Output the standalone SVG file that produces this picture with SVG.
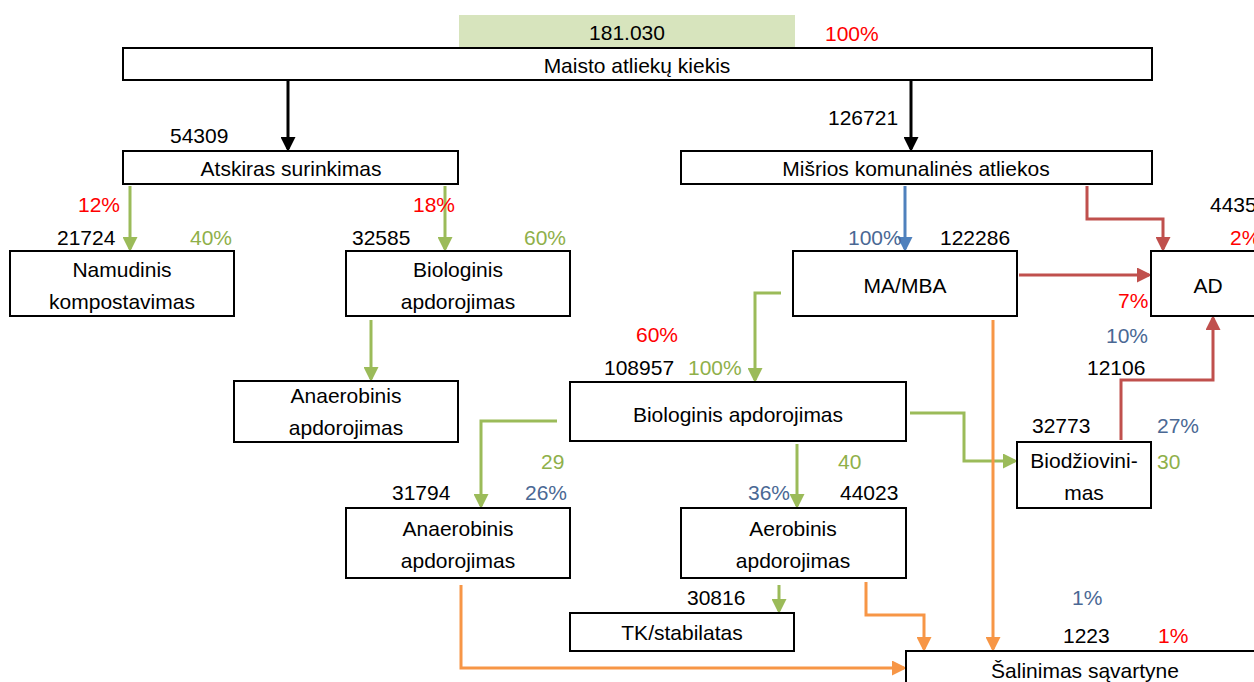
<svg xmlns="http://www.w3.org/2000/svg" width="1254" height="682" viewBox="0 0 1254 682">
<defs>
<style>
text{font-family:"Liberation Sans",Arial,sans-serif;font-size:21px;fill:#000;dominant-baseline:central}
.c{text-anchor:middle}
.r{fill:#FF0000}
.g{fill:#8FB04A}
.b{fill:#4A6894}
.box{fill:#fff;stroke:#000;stroke-width:2}
.k{stroke:#000;stroke-width:3;fill:none}
.gr{stroke:#9BBB59;stroke-width:3;fill:none}
.bl{stroke:#4F81BD;stroke-width:3;fill:none}
.rd{stroke:#C0504D;stroke-width:3;fill:none}
.or{stroke:#F79646;stroke-width:3;fill:none}
</style>
<marker id="mk" markerWidth="5" markerHeight="5" refX="4" refY="2.5" orient="auto" markerUnits="strokeWidth"><path d="M0,0L5,2.5L0,5z" fill="#000"/></marker>
<marker id="mg" markerWidth="5" markerHeight="5" refX="4" refY="2.5" orient="auto" markerUnits="strokeWidth"><path d="M0,0L5,2.5L0,5z" fill="#9BBB59"/></marker>
<marker id="mb" markerWidth="5" markerHeight="5" refX="4" refY="2.5" orient="auto" markerUnits="strokeWidth"><path d="M0,0L5,2.5L0,5z" fill="#4F81BD"/></marker>
<marker id="mr" markerWidth="5" markerHeight="5" refX="4" refY="2.5" orient="auto" markerUnits="strokeWidth"><path d="M0,0L5,2.5L0,5z" fill="#C0504D"/></marker>
<marker id="mo" markerWidth="5" markerHeight="5" refX="4" refY="2.5" orient="auto" markerUnits="strokeWidth"><path d="M0,0L5,2.5L0,5z" fill="#F79646"/></marker>
</defs>
<rect width="1254" height="682" fill="#fff"/>
<g id="total">
<rect x="459" y="15" width="336" height="33" fill="#D7E4BD"/>
<text class="c" x="627" y="32">181.030</text>
<text class="r" x="825" y="33">100%</text>
</g>
<g id="connectors">
<path class="k" d="M288,81V149" marker-end="url(#mk)"/>
<path class="k" d="M911,81V149" marker-end="url(#mk)"/>
<path class="gr" d="M130,186V249" marker-end="url(#mg)"/>
<path class="gr" d="M445,186V249" marker-end="url(#mg)"/>
<path class="gr" d="M371,320V379" marker-end="url(#mg)"/>
<path class="bl" d="M905,186V249" marker-end="url(#mb)"/>
<path class="rd" d="M1087,186V219H1163V249" marker-end="url(#mr)"/>
<path class="rd" d="M1019,275H1149" marker-end="url(#mr)"/>
<path class="rd" d="M1121,440V380H1213V318" marker-end="url(#mr)"/>
<path class="gr" d="M781,293H755V380" marker-end="url(#mg)"/>
<path class="gr" d="M557,421H481V506" marker-end="url(#mg)"/>
<path class="gr" d="M797,444V506" marker-end="url(#mg)"/>
<path class="gr" d="M910,413H964V461H1015" marker-end="url(#mg)"/>
<path class="gr" d="M779,585V611" marker-end="url(#mg)"/>
<path class="or" d="M993,320V649" marker-end="url(#mo)"/>
<path class="or" d="M866,582V615H924V649" marker-end="url(#mo)"/>
<path class="or" d="M461,585V668H904" marker-end="url(#mo)"/>
</g>
<g id="maisto">
<rect class="box" x="123" y="48" width="1029" height="32"/>
<text class="c" x="637" y="65">Maisto atliekų kiekis</text>
</g>
<g id="atskiras">
<rect class="box" x="123" y="151" width="335" height="33"/>
<text class="c" x="291" y="168">Atskiras surinkimas</text>
<text x="170" y="135">54309</text>
</g>
<g id="misrios">
<rect class="box" x="681" y="151" width="471" height="33"/>
<text class="c" x="916" y="168">Mišrios komunalinės atliekos</text>
<text x="828" y="117">126721</text>
</g>
<g id="namudinis">
<rect class="box" x="10" y="251" width="224" height="65"/>
<text class="c" x="122" y="269">Namudinis</text>
<text class="c" x="122" y="301">kompostavimas</text>
<text class="r" x="78" y="204">12%</text>
<text x="57" y="237">21724</text>
<text class="g" x="190" y="237">40%</text>
</g>
<g id="biologinis1">
<rect class="box" x="346" y="251" width="224" height="65"/>
<text class="c" x="458" y="269">Biologinis</text>
<text class="c" x="458" y="301">apdorojimas</text>
<text class="r" x="413" y="204">18%</text>
<text x="352" y="237">32585</text>
<text class="g" x="524" y="237">60%</text>
</g>
<g id="anaerobinis1">
<rect class="box" x="234" y="381" width="224" height="61"/>
<text class="c" x="346" y="395">Anaerobinis</text>
<text class="c" x="346" y="427">apdorojimas</text>
</g>
<g id="mambа">
<rect class="box" x="793" y="251" width="224" height="65"/>
<text class="c" x="905" y="285">MA/MBA</text>
<text class="b" x="848" y="237">100%</text>
<text x="940" y="237">122286</text>
</g>
<g id="ad">
<rect class="box" x="1151" y="251" width="110" height="65"/>
<text class="c" x="1208" y="285">AD</text>
<text x="1210" y="204">4435</text>
<text class="r" x="1230" y="237">2%</text>
<text class="r" x="1118" y="300">7%</text>
<text class="b" x="1106" y="335">10%</text>
<text x="1087" y="367">12106</text>
</g>
<g id="biologinis2">
<rect class="box" x="570" y="382" width="336" height="59"/>
<text class="c" x="738" y="414">Biologinis apdorojimas</text>
<text class="r" x="636" y="334">60%</text>
<text x="604" y="367">108957</text>
<text class="g" x="688" y="367">100%</text>
</g>
<g id="anaerobinis2">
<rect class="box" x="346" y="508" width="224" height="70"/>
<text class="c" x="458" y="528">Anaerobinis</text>
<text class="c" x="458" y="560">apdorojimas</text>
<text class="g" x="541" y="461">29</text>
<text x="392" y="492">31794</text>
<text class="b" x="525" y="492">26%</text>
</g>
<g id="aerobinis">
<rect class="box" x="681" y="508" width="225" height="70"/>
<text class="c" x="793" y="528">Aerobinis</text>
<text class="c" x="793" y="560">apdorojimas</text>
<text class="g" x="838" y="461">40</text>
<text class="b" x="748" y="492">36%</text>
<text x="840" y="492">44023</text>
</g>
<g id="biodziovinimas">
<rect class="box" x="1017" y="442" width="134" height="66"/>
<text class="c" x="1084" y="460">Biodžiovini-</text>
<text class="c" x="1084" y="492">mas</text>
<text x="1032" y="425">32773</text>
<text class="b" x="1157" y="425">27%</text>
<text class="g" x="1157" y="461">30</text>
</g>
<g id="tk">
<rect class="box" x="570" y="613" width="224" height="38"/>
<text class="c" x="682" y="632">TK/stabilatas</text>
<text x="687" y="597">30816</text>
</g>
<g id="salinimas">
<rect class="box" x="906" y="651" width="360" height="40"/>
<text class="c" x="1085" y="670">Šalinimas sąvartyne</text>
<text class="b" x="1072" y="597">1%</text>
<text x="1063" y="635">1223</text>
<text class="r" x="1158" y="635">1%</text>
</g>
</svg>
